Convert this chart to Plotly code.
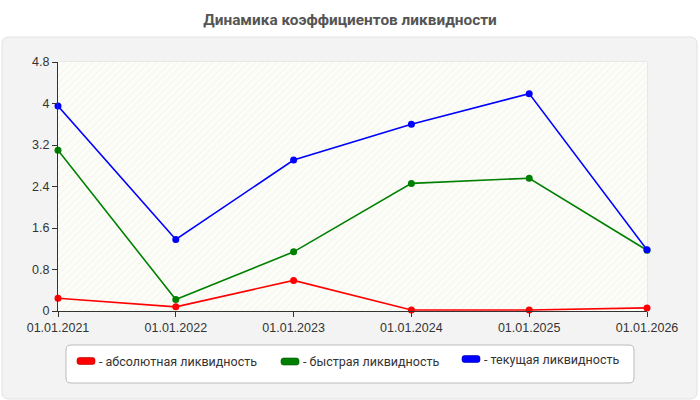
import plotly.graph_objects as go

dates = ["01.01.2021", "01.01.2022", "01.01.2023", "01.01.2024", "01.01.2025", "01.01.2026"]
absolute = [0.245, 0.08, 0.59, 0.02, 0.02, 0.06]
quick = [3.10, 0.22, 1.14, 2.46, 2.56, 1.17]
current = [3.95, 1.38, 2.91, 3.60, 4.19, 1.18]
y_ticks = [0, 0.8, 1.6, 2.4, 3.2, 4, 4.8]

names = ["- абсолютная ликвидность", "- быстрая ликвидность", "- текущая ликвидность"]
colors = ["#ff0000", "#008000", "#0000ff"]
edge_colors = ["#b00000", "#005500", "#0000a0"]
series = [absolute, quick, current]

x_idx = list(range(len(dates)))
x_range = [0, len(dates) - 1]
y_range = [0, y_ticks[-1]]

FONT = "Liberation Sans, Arial, sans-serif"
FONT2 = "Roboto, Liberation Sans, Arial, sans-serif"

fig = go.Figure()

# plot-area background with subtle hatch
fig.add_trace(go.Scatter(
    x=[x_range[0], x_range[1], x_range[1], x_range[0], x_range[0]],
    y=[y_range[0], y_range[0], y_range[1], y_range[1], y_range[0]],
    mode="none", fill="toself", fillcolor="#fdfdf8",
    fillpattern=dict(shape="/", fgcolor="#e8e8e8", bgcolor="#fdfdf8", size=5, solidity=0.2),
    hoverinfo="skip", showlegend=False))

for name, col, vals in zip(names, colors, series):
    fig.add_trace(go.Scatter(
        x=x_idx, y=vals, mode="lines+markers", name=name,
        line=dict(color=col, width=1.6), marker=dict(color=col, size=7),
        cliponaxis=False, showlegend=False))

L, R, T, B = 58, 53, 62, 89
pw, ph = 700 - L - R, 400 - T - B


def px(xp):
    return (xp - L) / pw


def py(yp):
    return (400 - B - yp) / ph


def rrect(x0, y0, x1, y1, r):
    rx, ry = r / pw, r / ph
    return (f"M {px(x0)+rx},{py(y0)} L {px(x1)-rx},{py(y0)} Q {px(x1)},{py(y0)} {px(x1)},{py(y0)-ry} "
            f"L {px(x1)},{py(y1)+ry} Q {px(x1)},{py(y1)} {px(x1)-rx},{py(y1)} "
            f"L {px(x0)+rx},{py(y1)} Q {px(x0)},{py(y1)} {px(x0)},{py(y1)+ry} "
            f"L {px(x0)},{py(y0)-ry} Q {px(x0)},{py(y0)} {px(x0)+rx},{py(y0)} Z")


shapes = [
    dict(type="path", path=rrect(2, 37, 697, 399, 7), xref="paper", yref="paper",
         fillcolor="#f3f3f3", line=dict(color="#e2e2e2", width=1), layer="below"),
    dict(type="rect", x0=0, x1=1, y0=0, y1=1, xref="paper", yref="paper",
         line=dict(color="#dddddd", width=1), fillcolor="rgba(0,0,0,0)", layer="below"),
    # legend box
    dict(type="path", path=rrect(66, 345, 634, 383, 5), xref="paper", yref="paper",
         fillcolor="white", line=dict(color="#bbbbbb", width=1), layer="above"),
]

annotations = []
legend_swatch_x = [77, 281, 462]
legend_y = [361, 361.5, 359]
for name, col, ec, sx, sy in zip(names, colors, edge_colors, legend_swatch_x, legend_y):
    shapes.append(dict(type="path", path=rrect(sx, sy - 3.5, sx + 18, sy + 3.5, 2.5),
                       xref="paper", yref="paper", fillcolor=col,
                       line=dict(color=ec, width=0.6), layer="above"))
    annotations.append(dict(text=name, x=px(sx + 20), y=py(sy), xref="paper", yref="paper",
                            xanchor="left", yanchor="middle", showarrow=False,
                            font=dict(size=12.5, color="#333", family=FONT2)))

fig.update_layout(
    width=700, height=400,
    margin=dict(l=L, r=R, t=T, b=B),
    paper_bgcolor="white", plot_bgcolor="rgba(0,0,0,0)",
    font=dict(family=FONT, size=12, color="#333"),
    showlegend=False,
    title=dict(text="<b>Динамика коэффициентов ликвидности</b>", x=0.5, xanchor="center",
               y=1 - 20 / 400, yanchor="middle",
               font=dict(size=15.4, color="#555", family=FONT2)),
    shapes=shapes,
    annotations=annotations,
    xaxis=dict(range=x_range, tickvals=x_idx, ticktext=dates, showgrid=True,
               gridcolor="#dddddd", griddash="dash", gridwidth=1, zeroline=False,
               showline=True, linecolor="#333", linewidth=1, ticks="outside",
               ticklen=5, tickcolor="#333", tickfont=dict(size=12.5, color="#333")),
    yaxis=dict(range=y_range, tickvals=y_ticks, ticktext=[f"{v:g}" for v in y_ticks],
               showgrid=True, gridcolor="#dddddd", griddash="dash", gridwidth=1,
               zeroline=False, showline=True, linecolor="#333", linewidth=1,
               ticks="outside", ticklen=5, tickcolor="#333",
               tickfont=dict(size=12.5, color="#333")),
)

fig.write_html("out.html")
